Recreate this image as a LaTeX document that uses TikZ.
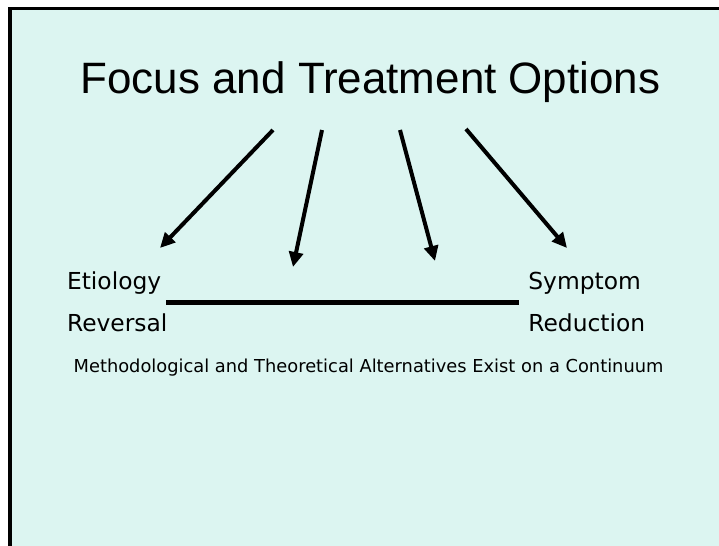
\documentclass[tikz,border=0pt]{standalone}
\usepackage{fontspec}
\setmainfont{Liberation Sans}
\newfontfamily\labelfont{DejaVu Sans}
\usetikzlibrary{arrows.meta}

\definecolor{slidebg}{RGB}{220,245,241}

\begin{document}
\begin{tikzpicture}[x=0.2mm, y=-0.2mm,
    focusarrow/.style={line width=0.8mm, -{Triangle[length=3mm, width=2.8mm]}},
    endlabel/.style={anchor=base west, inner sep=0pt, font=\labelfont\fontsize{13.3}{15}\selectfont}]
  \useasboundingbox (0,0) rectangle (719,546);
  \clip (0,0) rectangle (719,546);
  % folie
  \draw[fill=slidebg, line width=0.6mm] (10,8.5) rectangle (760,600);
  % titel
  \node[anchor=base, inner sep=0pt, font=\fontsize{25}{30}\selectfont] (title) at (370.5,93.3) {Focus and Treatment Options};
  % pile
  \coordinate (s1) at (273,130);
  \coordinate (e1) at (160,248);
  \coordinate (s2) at (322,130);
  \coordinate (e2) at (293,267);
  \coordinate (s3) at (400,130);
  \coordinate (e3) at (435,261);
  \coordinate (s4) at (466,129);
  \coordinate (e4) at (567,248);
  \draw[focusarrow] (s1) -- (e1);
  \draw[focusarrow] (s2) -- (e2);
  \draw[focusarrow] (s3) -- (e3);
  \draw[focusarrow] (s4) -- (e4);
  % kontinuum
  \node[endlabel] (etiology) at (66.7,289) {Etiology};
  \node[endlabel] (reversal) at (66.7,331.7) {Reversal};
  \node[endlabel] (symptom) at (528,289) {Symptom};
  \node[endlabel] (reduction) at (528,331.7) {Reduction};
  \coordinate (cl) at (166,302.5);
  \coordinate (cr) at (519,302.5);
  \draw[line width=1.1mm] (cl) -- (cr);
  \node[anchor=base west, inner sep=0pt, font=\labelfont\fontsize{10.15}{12}\selectfont] (caption) at (73.3,372.7) {Methodological and Theoretical Alternatives Exist on a Continuum};
\end{tikzpicture}
\end{document}
